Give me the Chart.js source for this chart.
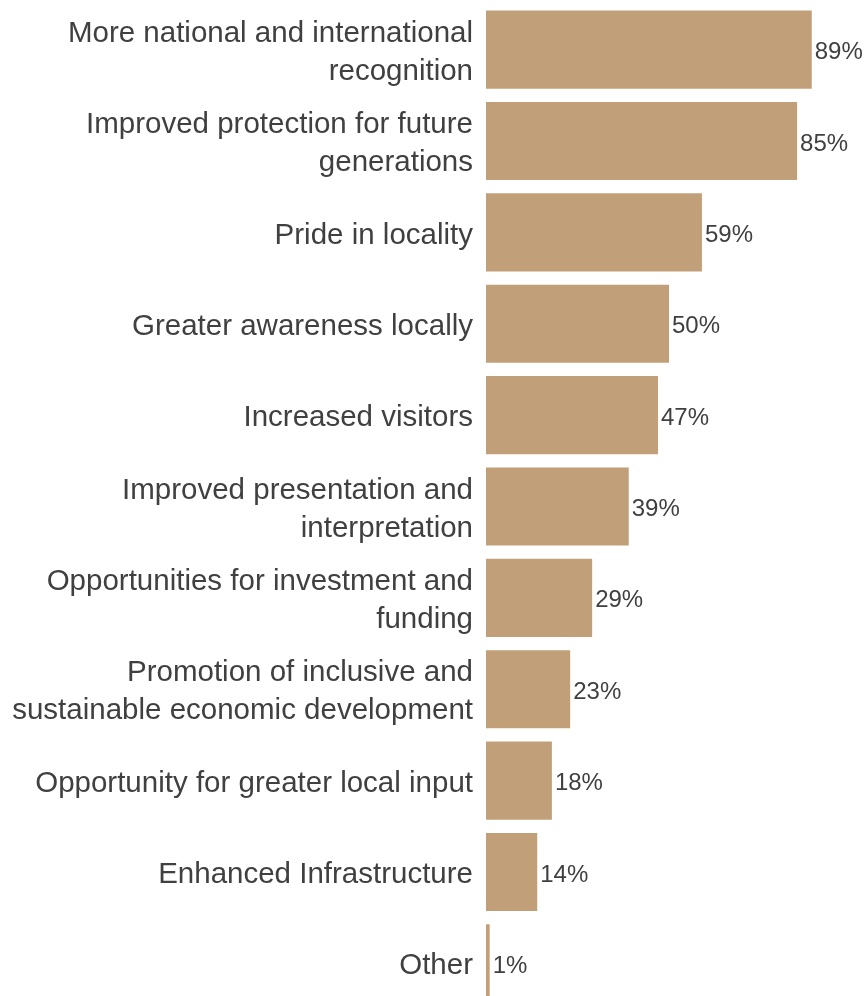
<!DOCTYPE html>
<html>
<head>
<meta charset="utf-8">
<script src="https://cdn.jsdelivr.net/npm/chart.js@4"></script>
<style>
  html, body { margin: 0; padding: 0; background: #fff; overflow: hidden; }
  #wrap { width: 866px; height: 1013px; position: relative; }
</style>
</head>
<body>
<div id="wrap"><canvas id="benefitsChart"></canvas></div>
<script>
const categories = [
  ['More national and international', 'recognition'],
  ['Improved protection for future', 'generations'],
  'Pride in locality',
  'Greater awareness locally',
  'Increased visitors',
  ['Improved presentation and', 'interpretation'],
  ['Opportunities for investment and', 'funding'],
  ['Promotion of inclusive and', 'sustainable economic development'],
  'Opportunity for greater local input',
  'Enhanced Infrastructure',
  'Other'
];
const percentages = [89, 85, 59, 50, 47, 39, 29, 23, 18, 14, 1];

const textColor = '#404040';
const barColor = '#c19f79';

// value labels at the end of each bar
const valueLabels = {
  id: 'valueLabels',
  afterDatasetsDraw(chart) {
    const ctx = chart.ctx;
    const meta = chart.getDatasetMeta(0);
    ctx.save();
    ctx.font = '24px "Liberation Sans", Arial, sans-serif';
    ctx.fillStyle = textColor;
    ctx.textAlign = 'left';
    ctx.textBaseline = 'middle';
    meta.data.forEach((bar, i) => {
      ctx.fillText(percentages[i] + '%', bar.x + 3, bar.y + 3);
    });
    ctx.restore();
  }
};

const ctx = document.getElementById('benefitsChart');

new Chart(ctx, {
  type: 'bar',
  data: {
    labels: categories,
    datasets: [{
      data: percentages,
      backgroundColor: barColor,
      categoryPercentage: 1,
      barPercentage: 0.855,
    }]
  },
  plugins: [valueLabels],
  options: {
    indexAxis: 'y',
    responsive: true,
    maintainAspectRatio: false,
    animation: false,
    layout: { padding: { top: 4, bottom: 4, left: 0, right: 14 } },
    plugins: {
      legend: { display: false },
      tooltip: { enabled: false },
    },
    scales: {
      x: {
        display: false,
        min: 0,
        max: 100,
      },
      y: {
        grid: { display: false, drawTicks: false },
        border: { display: false },
        afterFit(scale) {
          scale.width = 486;
          scale.paddingTop = 0;
          scale.paddingBottom = 0;
        },
        ticks: {
          color: textColor,
          padding: 13,
          labelOffset: 3,
          font: { family: '"Liberation Sans", Arial, sans-serif', size: 29.5, lineHeight: 1.29 },
        },
      },
    },
  }
});
</script>
</body>
</html>
